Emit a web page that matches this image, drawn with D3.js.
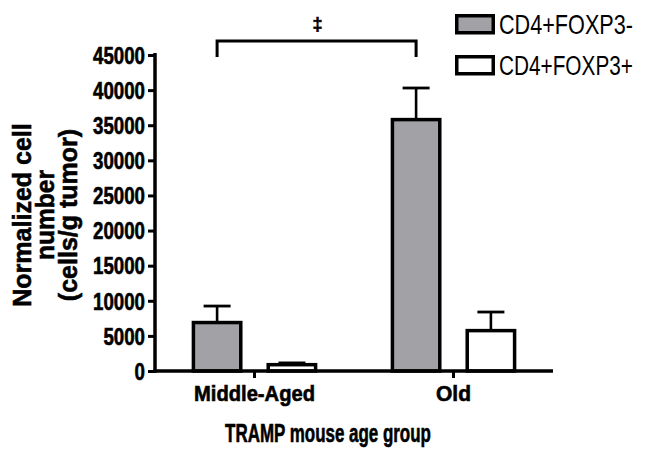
<!DOCTYPE html>
<html>
<head>
<meta charset="utf-8">
<script src="https://cdn.jsdelivr.net/npm/d3@7"></script>
<style>
  html, body { margin: 0; padding: 0; background: #fff; }
  svg { display: block; font-family: "Liberation Sans", Arial, sans-serif; }
  .heavy { stroke: #000; stroke-width: 0.6px; paint-order: stroke; }
</style>
</head>
<body>
<svg id="chart" width="645" height="454"></svg>
<script>
const categories = ["Middle-Aged", "Old"];
const seriesNames = ["CD4+FOXP3-", "CD4+FOXP3+"];
const foxp3NegValues = [6900, 35800];
const foxp3NegErrors = [2350, 4500];
const foxp3PosValues = [900, 5750];
const foxp3PosErrors = [250, 2650];
const yTicks = [0, 5000, 10000, 15000, 20000, 25000, 30000, 35000, 40000, 45000];
const yLabelLines = ["Normalized cell", "number", "(cells/g tumor)"];
const xTitle = "TRAMP mouse age group";
const sigSymbol = "\u2021";

const fills = ["#a2a2a6", "#ffffff"];

const svg = d3.select("#chart");
const plotL = 155, plotR = 553, plotT = 55, plotB = 371;

// squeeze a text horizontally (in its own reading direction) to a target width
function squeeze(node, target, pre) {
  const natural = node.getComputedTextLength();
  const sx = Math.min(1, target / natural);
  node.setAttribute("transform", `${pre} scale(${sx},1)`);
}

const x0 = d3.scaleBand().domain(categories).range([plotL, plotR]).paddingInner(0).paddingOuter(0);
const x1 = d3.scaleBand().domain(seriesNames).range([0, x0.bandwidth()]).paddingInner(0.32).paddingOuter(0.49);
const y = d3.scaleLinear().domain([0, 45000]).range([plotB, plotT]);

const data = categories.map((c, i) => ({
  cat: c,
  items: [
    { s: seriesNames[0], v: foxp3NegValues[i], e: foxp3NegErrors[i] },
    { s: seriesNames[1], v: foxp3PosValues[i], e: foxp3PosErrors[i] }
  ]
}));

const g = svg.append("g");
// error bars
data.forEach(d => {
  d.items.forEach((it) => {
    const cx = x0(d.cat) + x1(it.s) + x1.bandwidth() / 2;
    g.append("line").attr("x1", cx).attr("x2", cx)
      .attr("y1", y(it.v)).attr("y2", y(it.v + it.e))
      .attr("stroke", "#000").attr("stroke-width", 2.6);
    g.append("line").attr("x1", cx - 13.5).attr("x2", cx + 13.5)
      .attr("y1", y(it.v + it.e)).attr("y2", y(it.v + it.e))
      .attr("stroke", "#000").attr("stroke-width", 2.8);
  });
});

// bars
data.forEach(d => {
  d.items.forEach((it, j) => {
    g.append("rect")
      .attr("x", x0(d.cat) + x1(it.s) + 1.75)
      .attr("y", y(it.v))
      .attr("width", x1.bandwidth() - 3.5)
      .attr("height", y(0) - y(it.v))
      .attr("fill", fills[j]).attr("stroke", "#000").attr("stroke-width", 3.5);
  });
});

// Y axis
const yAxis = svg.append("g").attr("transform", `translate(${plotL},0)`)
  .call(d3.axisLeft(y).tickValues(yTicks).tickSize(7).tickPadding(3).tickFormat(d3.format("d")));
yAxis.select(".domain").attr("stroke", "#000").attr("stroke-width", 3.5).attr("d", `M0,${plotT - 2}V${plotB + 1.75}`);
yAxis.selectAll(".tick line").attr("stroke", "#000").attr("stroke-width", 3);
yAxis.selectAll(".tick text")
  .attr("class", "heavy")
  .attr("fill", "#000").attr("font-size", 23).attr("font-weight", "bold")
  .attr("font-family", "Liberation Sans, Arial, sans-serif")
  .attr("dy", "0.36em")
  .each(function(d) {
    const xx = +this.getAttribute("x");
    this.setAttribute("x", 0);
    squeeze(this, String(d).length * 10.4, `translate(${xx},0)`);
  });

// X axis
const xAxis = svg.append("g").attr("transform", `translate(0,${plotB})`)
  .call(d3.axisBottom(x0).tickSize(7).tickPadding(7));
xAxis.select(".domain").attr("stroke", "#000").attr("stroke-width", 3.5).attr("d", `M${plotL - 1.75},0H${plotR}`);
xAxis.selectAll(".tick line").attr("stroke", "#000").attr("stroke-width", 3);
const xLabelLens = { "Middle-Aged": 121, "Old": 35 };
xAxis.selectAll(".tick text")
  .attr("class", "heavy")
  .attr("fill", "#000").attr("font-size", 22).attr("font-weight", "bold")
  .attr("font-family", "Liberation Sans, Arial, sans-serif")
  .attr("dy", "0.71em")
  .each(function(d) {
    const yy = +this.getAttribute("y");
    this.setAttribute("y", 0);
    squeeze(this, xLabelLens[d], `translate(0,${yy})`);
  });

// X title
svg.append("text").attr("class", "heavy").attr("text-anchor", "middle")
  .attr("font-size", 25).attr("font-weight", "bold")
  .text(xTitle)
  .each(function() { squeeze(this, 206, "translate(328,442)"); });

// Y title (rotated, 3 lines)
const yLens = [186, 90, 182];
const yBase = [31, 54, 77];
yLabelLines.forEach((t, i) => {
  svg.append("text").attr("class", "heavy")
    .attr("text-anchor", "middle").attr("font-size", 25).attr("font-weight", "bold")
    .text(t)
    .each(function() { squeeze(this, yLens[i], `translate(${yBase[i]},215) rotate(-90)`); });
});

// significance bracket between the grey bars
const bx1 = x0(categories[0]) + x1(seriesNames[0]) + x1.bandwidth() / 2;
const bx2 = x0(categories[1]) + x1(seriesNames[0]) + x1.bandwidth() / 2;
svg.append("path")
  .attr("d", `M${bx1},57V41H${bx2}V57`)
  .attr("fill", "none").attr("stroke", "#000").attr("stroke-width", 3);
svg.append("text").attr("class", "heavy").attr("x", (bx1 + bx2) / 2 + 1).attr("y", 30).attr("text-anchor", "middle")
  .attr("font-size", 18).attr("font-weight", "bold").text(sigSymbol);

// legend
const legend = svg.append("g");
seriesNames.forEach((s, i) => {
  const ly = 14 + i * 41;
  legend.append("rect").attr("x", 456.75).attr("y", ly + 1.75).attr("width", 36.5).attr("height", 17)
    .attr("fill", fills[i]).attr("stroke", "#000").attr("stroke-width", 3.5);
  legend.append("text")
    .attr("font-size", 27)
    .text(s)
    .each(function() { squeeze(this, 134, `translate(499,${ly + 19.5})`); });
});
</script>
</body>
</html>
